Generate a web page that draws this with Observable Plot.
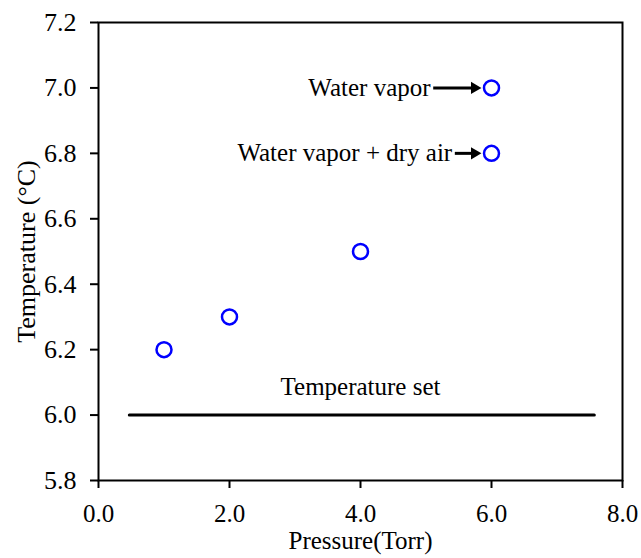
<!DOCTYPE html>
<html><head><meta charset="utf-8">
<script src="https://cdn.jsdelivr.net/npm/d3@7"></script>
<script src="https://cdn.jsdelivr.net/npm/@observablehq/plot@0.6"></script>
<style>body{margin:0;background:#fff}</style>
</head><body><div id="chart"></div>
<script>
const pressure = [1, 2, 4, 6, 6];
const temperature = [6.2, 6.3, 6.5, 6.8, 7.0];
const xTicks = [0, 2, 4, 6, 8];
const yTicks = [5.8, 6.0, 6.2, 6.4, 6.6, 6.8, 7.0, 7.2];
const setLineX = [0.47, 7.57];
const setTemp = 6.0;
const setLabel = "Temperature set";
const annotLabels = ["Water vapor", "Water vapor + dry air"];
const annotY = [7.0, 6.8];
const annotTextX = [5.07, 5.40];
const annotArrowStart = [5.11, 5.44];
const annotArrowEnd = 5.74;

const points = pressure.map((p, i) => ({p, t: temperature[i]}));
const annots = annotLabels.map((l, i) => ({label: l, y: annotY[i], tx: annotTextX[i], x1: annotArrowStart[i], x2: annotArrowEnd}));

const font = "'Liberation Serif', 'Times New Roman', serif";
const chart = Plot.plot({
  width: 641, height: 558,
  marginLeft: 98, marginRight: 19, marginTop: 22, marginBottom: 78,
  style: {fontFamily: font, fontSize: "25px", color: "black", background: "white"},
  x: {domain: [0, 8]},
  y: {domain: [5.8, 7.2]},
  marks: [
    Plot.frame({stroke: "black", strokeWidth: 2}),
    Plot.axisX({ticks: xTicks, tickFormat: d3.format(".1f"), tickSize: 8, tickPadding: 16, strokeWidth: 2, fontSize: 25,
      label: "Pressure(Torr)", labelAnchor: "center", labelArrow: "none", labelOffset: 68}),
    Plot.axisY({ticks: yTicks, tickFormat: d3.format(".1f"), tickSize: 8, tickPadding: 14, strokeWidth: 2, fontSize: 26,
      label: "Temperature (°C)", labelAnchor: "center", labelArrow: "none", labelOffset: 82}),
    Plot.line(setLineX.map(x => ({x, y: setTemp})), {x: "x", y: "y", stroke: "black", strokeWidth: 3}),
    Plot.text([setLabel], {x: 4, y: 6.085, text: d => d, fontSize: 25, fill: "black"}),
    Plot.link(annots, {x1: "x1", x2: "x2", y1: "y", y2: "y", stroke: "black", strokeWidth: 3}),
    Plot.dot(annots, {x: "x2", y: "y", symbol: "triangle", rotate: 90, r: 4.5, fill: "black", stroke: "none"}),
    Plot.text(annots, {x: "tx", y: "y", text: "label", textAnchor: "end", fontSize: 25, fill: "black"}),
    Plot.dot(points, {x: "p", y: "t", r: 7.5, stroke: "#0000ff", strokeWidth: 2.5, fill: "none"})
  ]
});
document.getElementById("chart").appendChild(chart);
</script>
</body></html>
